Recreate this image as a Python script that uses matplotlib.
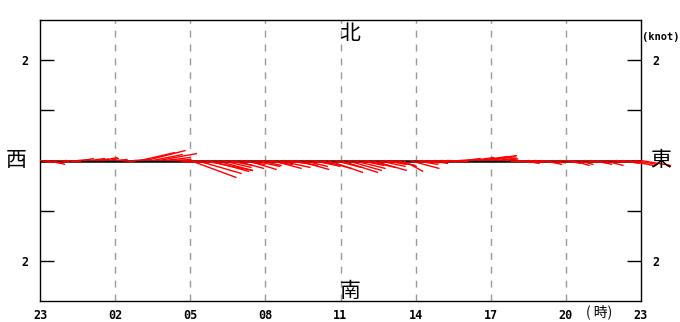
import matplotlib
matplotlib.use('Agg')
import matplotlib.pyplot as plt
import numpy as np

# time axis: hours since 23:00, one stick every 15 minutes
hours = np.arange(0, 24.01, 0.25)
xtick_pos = [0, 3, 6, 9, 12, 15, 18, 21, 24]
xtick_labels = ['23', '02', '05', '08', '11', '14', '17', '20', '23']

# east (u) and north (v) components in knots
u = [0.25, 0.3, 0.25, 0.2,
     0.25, 0.2, 0.25, 0.2,
     0.3, 0.25, 0.3, 0.2,
     0.25, 0.2, 0.15, 0.3,
     0.7, 0.78, 0.6, 0.76,
     0.5, 0.4, 0.3, 0.5,
     0.92, 0.9, 1.0, 0.8,
     0.75, 0.6, 0.5, 0.6,
     0.5, 0.6, 0.55, 0.45,
     0.55, 0.6, 0.65, 0.45,
     0.55, 0.65, 0.5, 0.5,
     0.5, 0.6, 0.7, 0.55,
     0.75, 0.7, 0.65, 0.5,
     0.6, 0.7, 0.55, 0.45,
     0.5, 0.4, 0.4, 0.6,
     0.45, 0.35, 0.4, 0.3,
     0.3, 0.35, 0.3, 0.35,
     0.3, 0.45, 0.6, 0.65,
     0.5, 0.4, 0.3, 0.25,
     0.3, 0.35, 0.3, 0.25,
     0.35, 0.3, 0.25, 0.3,
     0.3, 0.35, 0.3, 0.25,
     0.35, 0.3, 0.4, 0.3,
     0.4, 0.35, 0.5, 0.45,
     0.6]
v = [-0.04, -0.06, -0.08, -0.03,
     -0.02, 0.0, 0.02, 0.04,
     0.04, 0.03, 0.06, 0.04,
     0.02, -0.02, 0.0, 0.02,
     0.16, 0.2, 0.12, 0.14,
     0.06, 0.02, -0.04, -0.05,
     -0.34, -0.26, -0.2, -0.22,
     -0.2, -0.14, -0.1, -0.16,
     -0.08, -0.18, -0.12, -0.1,
     -0.08, -0.16, -0.14, -0.06,
     -0.1, -0.18, -0.12, -0.08,
     -0.12, -0.16, -0.24, -0.14,
     -0.24, -0.2, -0.16, -0.1,
     -0.14, -0.2, -0.12, -0.08,
     -0.1, -0.12, -0.22, -0.16,
     -0.08, -0.05, -0.06, -0.03,
     -0.02, -0.01, 0.0, 0.02,
     0.04, 0.06, 0.08, 0.1,
     0.08, 0.05, 0.03, 0.0,
     -0.04, -0.06, -0.04, -0.02,
     -0.06, -0.08, -0.05, -0.02,
     -0.06, -0.1, -0.08, -0.04,
     -0.06, -0.08, -0.1, -0.04,
     -0.04, -0.06, -0.1, -0.08,
     -0.1]

W, H = 680, 322
fig = plt.figure(figsize=(W / 100, H / 100), dpi=100)
x0, x1, y0, y1 = 40, 641, 20, 301
ax = fig.add_axes([x0 / W, 1 - y1 / H, (x1 - x0) / W, (y1 - y0) / H])

ymax = 2.8
ax.set_xlim(0, 24)
ax.set_ylim(-ymax, ymax)

# one knot east must cover as many pixels as one knot north
px_per_knot = (y1 - y0) / (2 * ymax)
px_per_hour = (x1 - x0) / 24.0
k = px_per_knot / px_per_hour

for g in xtick_pos[1:-1]:
    ax.axvline(g, color='#999999', lw=1, dashes=(5, 5), zorder=1)

ax.axhline(0, color='k', lw=1.8, zorder=2)
for t, uu, vv in zip(hours, u, v):
    ax.plot([t, t + uu * k], [0, vv], color='red', lw=1, zorder=3,
            clip_on=False, solid_capstyle='butt')

mono = dict(family='DejaVu Sans Mono', weight='bold', size=8.5)
ax.set_xticks(xtick_pos)
ax.set_xticklabels(xtick_labels, fontdict=mono)
ax.tick_params(axis='x', length=0, pad=6)

ax.set_yticks([-2, -1, 0, 1, 2])
ax.set_yticklabels(['2', '', '', '', '2'], fontdict=mono)
ax.tick_params(axis='y', direction='in', length=10, width=1, pad=8,
               left=True, right=True, labelleft=True, labelright=True)
for lab in ax.get_yticklabels():
    lab.set_fontfamily('DejaVu Sans Mono')
    lab.set_fontweight('bold')

for s in ax.spines.values():
    s.set_linewidth(1)
    s.set_color('k')

cjk = dict(family=['Noto Sans CJK JP', 'DejaVu Sans'], size=15)
ax.text(0.516, 0.99, '北', transform=ax.transAxes, ha='center', va='top', **cjk)
ax.text(0.516, -0.005, '南', transform=ax.transAxes, ha='center', va='bottom', **cjk)
fig.text(16 / W, 1 - 160 / H, '西', ha='center', va='center', **cjk)
fig.text(661 / W, 1 - 160 / H, '東', ha='center', va='center', **cjk)

fig.text(642 / W, 1 - 37 / H, '(knot)', ha='left', va='center',
         family='DejaVu Sans Mono', weight='bold', size=7.5)
fig.text(599 / W, 1 - 312 / H, '( 時)', ha='center', va='center',
         family=['Noto Sans CJK JP', 'DejaVu Sans'], size=10)

fig.savefig('out.png', dpi=100)
